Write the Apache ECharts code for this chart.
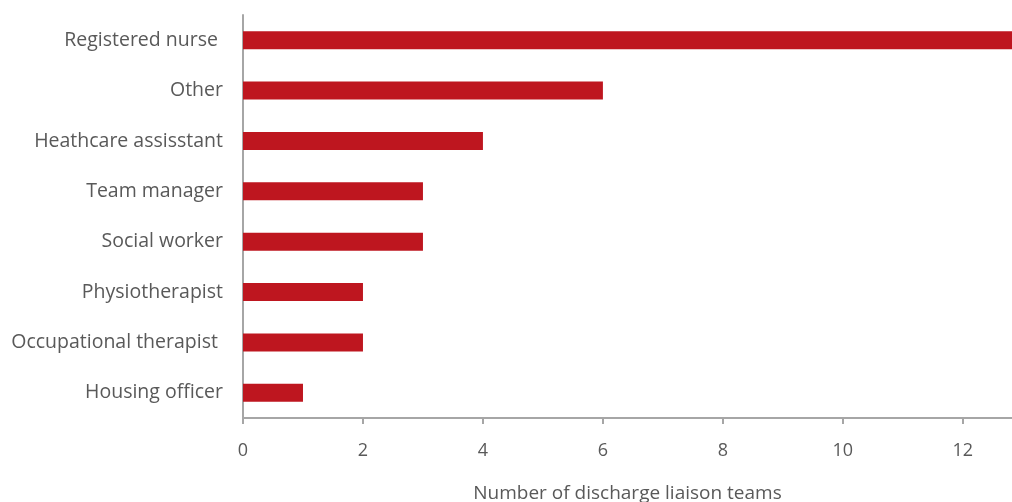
<!DOCTYPE html>
<html><head><meta charset="utf-8">
<script src="https://cdn.jsdelivr.net/npm/echarts@6/dist/echarts.min.js"></script>
<style>html,body{margin:0;padding:0;background:#fff}#c{width:1012px;height:502px}</style>
</head><body><div id="c"></div>
<script>
const categories = ["Registered nurse ", "Other", "Heathcare assisstant", "Team manager", "Social worker", "Physiotherapist", "Occupational therapist ", "Housing officer"];
const values = [13, 6, 4, 3, 3, 2, 2, 1];
const xTicks = [0, 2, 4, 6, 8, 10, 12];
const xName = "Number of discharge liaison teams";

const chart = echarts.init(document.getElementById('c'), null, {renderer: 'canvas'});
chart.setOption({
  animation: false,
  grid: {left: 243, right: 0, top: 15, bottom: 84, containLabel: false, outerBoundsMode: 'none'},
  xAxis: {
    type: 'value', min: 0, max: 12.82,
    name: xName, nameLocation: 'middle', nameGap: 66,
    nameTextStyle: {color: '#595959', fontSize: 19, fontFamily: 'Open Sans'},
    axisLine: {show: true, lineStyle: {color: '#A6A6A6', width: 2}},
    axisTick: {show: true, length: 6, lineStyle: {color: '#A6A6A6', width: 2}, customValues: xTicks},
    axisLabel: {color: '#595959', fontSize: 18, fontFamily: 'Open Sans', margin: 24, customValues: xTicks},
    splitLine: {show: false}
  },
  yAxis: {
    type: 'category', data: categories, inverse: true,
    axisLine: {show: true, lineStyle: {color: '#A6A6A6', width: 2}},
    axisTick: {show: false},
    axisLabel: {color: '#595959', fontSize: 19.5, fontFamily: 'Open Sans', margin: 20}
  },
  series: [{
    type: 'bar', data: values, barWidth: 18, clip: true,
    itemStyle: {color: '#BE161F'}
  }]
});
</script></body></html>
